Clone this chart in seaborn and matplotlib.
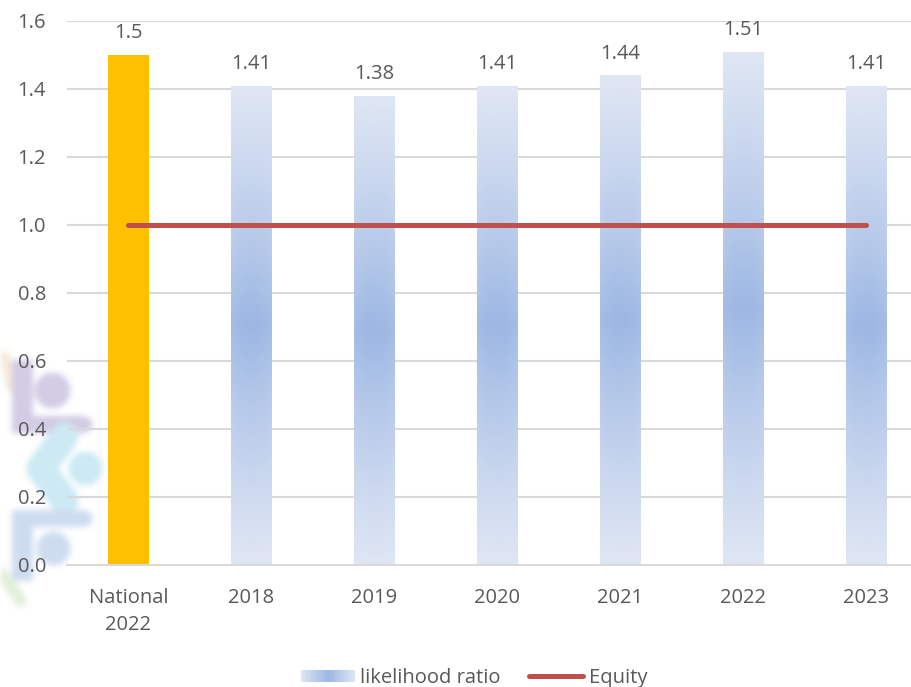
import numpy as np
import pandas as pd
import matplotlib
matplotlib.use("Agg")
import matplotlib.pyplot as plt
import seaborn as sns
from matplotlib.patches import Rectangle
from matplotlib.lines import Line2D
from matplotlib.legend_handler import HandlerBase

# Data
categories = ["National\n2022", "2018", "2019", "2020", "2021", "2022", "2023"]
ratios = [1.5, 1.41, 1.38, 1.41, 1.44, 1.51, 1.41]
equity = [1.0, 1.0, 1.0, 1.0, 1.0, 1.0, 1.0]
value_labels = ["1.5", "1.41", "1.38", "1.41", "1.44", "1.51", "1.41"]

TEXT = "#595959"
GOLD = "#FFC000"
RED = "#C0504D"
GRID = "#D9D9D9"
LIGHT = np.array([0xDF, 0xE6, 0xF4]) / 255
DARK = np.array([0x9C, 0xB7, 0xE3]) / 255
FS = 14.5

sns.set_theme(style="white")
plt.rcParams["font.family"] = ["Open Sans", "DejaVu Sans"]

df = pd.DataFrame({"category": categories, "ratio": ratios})

fig = plt.figure(figsize=(9.12, 6.87), dpi=100)
ax = fig.add_axes([67 / 912, 1 - 565 / 687, 860.5 / 912, 544 / 687], zorder=2)
ax.set_facecolor("none")

sns.barplot(data=df, x="category", y="ratio", ax=ax, width=0.33,
            color=LIGHT, saturation=1, zorder=2)

# Gradient fill for the yearly bars: light at the ends, deeper blue in the middle
ny, nx = 300, 40
yy, xx = np.mgrid[0:1:ny * 1j, 0:1:nx * 1j]
w = (1 - np.abs(2 * yy - 1)) ** 1.1 * (1 - 0.12 * (2 * xx - 1) ** 2)
grad = LIGHT[None, None, :] * (1 - w[..., None]) + DARK[None, None, :] * w[..., None]

for i, patch in enumerate(ax.patches[:len(categories)]):
    if i == 0:
        patch.set_facecolor(GOLD)
        patch.set_edgecolor("none")
        continue
    x0, y0 = patch.get_x(), patch.get_y()
    pw, ph = patch.get_width(), patch.get_height()
    patch.set_facecolor("none")
    patch.set_edgecolor("none")
    im = ax.imshow(grad, extent=[x0, x0 + pw, y0, y0 + ph], origin="lower",
                   aspect="auto", zorder=2, interpolation="bilinear")
    im.set_clip_path(patch)

# Value labels
for i, (v, lab) in enumerate(zip(ratios, value_labels)):
    ax.annotate(lab, (i, v), xytext=(0, 12), textcoords="offset points",
                ha="center", va="baseline", fontsize=FS, color=TEXT)

# Equity reference line
sns.lineplot(x=np.arange(len(categories)), y=equity, ax=ax, color=RED,
             linewidth=3.6, solid_capstyle="round", zorder=3, legend=False)

ax.set_xlim(-0.5, len(categories) - 0.5)
ax.set_ylim(0, 1.6)
yt = np.arange(0, 1.61, 0.2)
ax.set_yticks(yt)
ax.set_yticklabels([f"{t:.1f}" for t in yt])
ax.set_xticks(range(len(categories)))
ax.set_xticklabels(categories, linespacing=1.5)
ax.set_xlabel("")
ax.set_ylabel("")
ax.grid(axis="y", color=GRID, linewidth=1.5, zorder=0)
ax.set_axisbelow(True)
for s in ["top", "right", "left"]:
    ax.spines[s].set_visible(False)
ax.spines["bottom"].set_color(GRID)
ax.spines["bottom"].set_linewidth(1.5)
ax.tick_params(axis="both", length=0, labelsize=FS, labelcolor=TEXT)
ax.tick_params(axis="y", pad=15)
ax.tick_params(axis="x", pad=16.5)


# Legend with a gradient swatch
class GradientHandler(HandlerBase):
    def create_artists(self, legend, orig_handle, xdescent, ydescent,
                       width, height, fontsize, trans):
        n = 30
        arts = []
        for k in range(n):
            t = (k + 0.5) / n
            wk = max(0.0, 1 - abs(2 * t - 1))
            c = LIGHT * (1 - wk) + DARK * wk
            arts.append(Rectangle((xdescent + width * k / n, ydescent + height * 0.05),
                                  width / n * 1.05, height * 0.9, facecolor=c,
                                  edgecolor="none", transform=trans))
        return arts


swatch = Rectangle((0, 0), 1, 1)
eq_line = Line2D([0], [0], color=RED, linewidth=3.6, solid_capstyle="round")
leg = fig.legend([swatch, eq_line], ["likelihood ratio", "Equity"],
                 handler_map={Rectangle: GradientHandler()},
                 loc="center", bbox_to_anchor=(474 / 912, 1 - 678 / 687),
                 ncol=2, frameon=False, fontsize=FS, handlelength=2.7,
                 handletextpad=0.25, columnspacing=1.4, borderaxespad=0)
for t in leg.get_texts():
    t.set_color(TEXT)

# Soft logo mark at the left edge, drawn into a small RGBA canvas and blurred
H, W = 270, 120
top = 340
py, px = np.mgrid[top:top + H, 0:W].astype(float)


def disk(cx, cy, r):
    return ((px - cx) ** 2 + (py - cy) ** 2 <= r ** 2).astype(float)


def box(x0, y0, x1, y1):
    return ((px >= x0) & (px <= x1) & (py >= y0) & (py <= y1)).astype(float)


def band(xa, ya, xb, yb, half):
    dx, dy = xb - xa, yb - ya
    L2 = dx * dx + dy * dy
    t = np.clip(((px - xa) * dx + (py - ya) * dy) / L2, 0, 1)
    d = np.hypot(px - (xa + t * dx), py - (ya + t * dy))
    return (d <= half).astype(float)


layers = [
    ("#F5E6D3", band(4, 356, 12, 388, 5)),
    ("#CBC3E1", np.maximum.reduce([box(12, 360, 32, 432), band(20, 424, 84, 424, 8),
                                   disk(52, 390, 18)])),
    ("#C3E6F3", np.maximum.reduce([band(64, 436, 40, 468, 14), band(40, 468, 64, 500, 14),
                                   disk(85, 468, 17)])),
    ("#C6D6EE", np.maximum.reduce([box(12, 510, 32, 580), band(20, 518, 84, 518, 8),
                                   disk(53, 548, 17)])),
    ("#DCEDD2", band(2, 574, 20, 600, 6)),
]

rgb = np.ones((H, W, 3))
alpha = np.zeros((H, W))
for col, m in layers:
    c = np.array(matplotlib.colors.to_rgb(col))
    rgb = np.where(m[..., None] > 0, c, rgb)
    alpha = np.maximum(alpha, m)


def blur(a, r=3, passes=2):
    k = np.ones(2 * r + 1) / (2 * r + 1)
    for _ in range(passes):
        a = np.apply_along_axis(lambda v: np.convolve(v, k, mode="same"), 0, a)
        a = np.apply_along_axis(lambda v: np.convolve(v, k, mode="same"), 1, a)
    return a


rgb_b = np.stack([blur(rgb[..., i] * alpha) for i in range(3)], axis=-1)
a_b = blur(alpha)
rgb_b = np.where(a_b[..., None] > 1e-3, rgb_b / np.maximum(a_b[..., None], 1e-3), 1)
img = np.dstack([np.clip(rgb_b, 0, 1), np.clip(a_b * 0.85, 0, 1)])

wm = fig.add_axes([0, 1 - (top + H) / 687, W / 912, H / 687], zorder=1)
wm.imshow(img, aspect="auto", interpolation="bilinear")
wm.axis("off")

fig.savefig("out.png", dpi=100)
